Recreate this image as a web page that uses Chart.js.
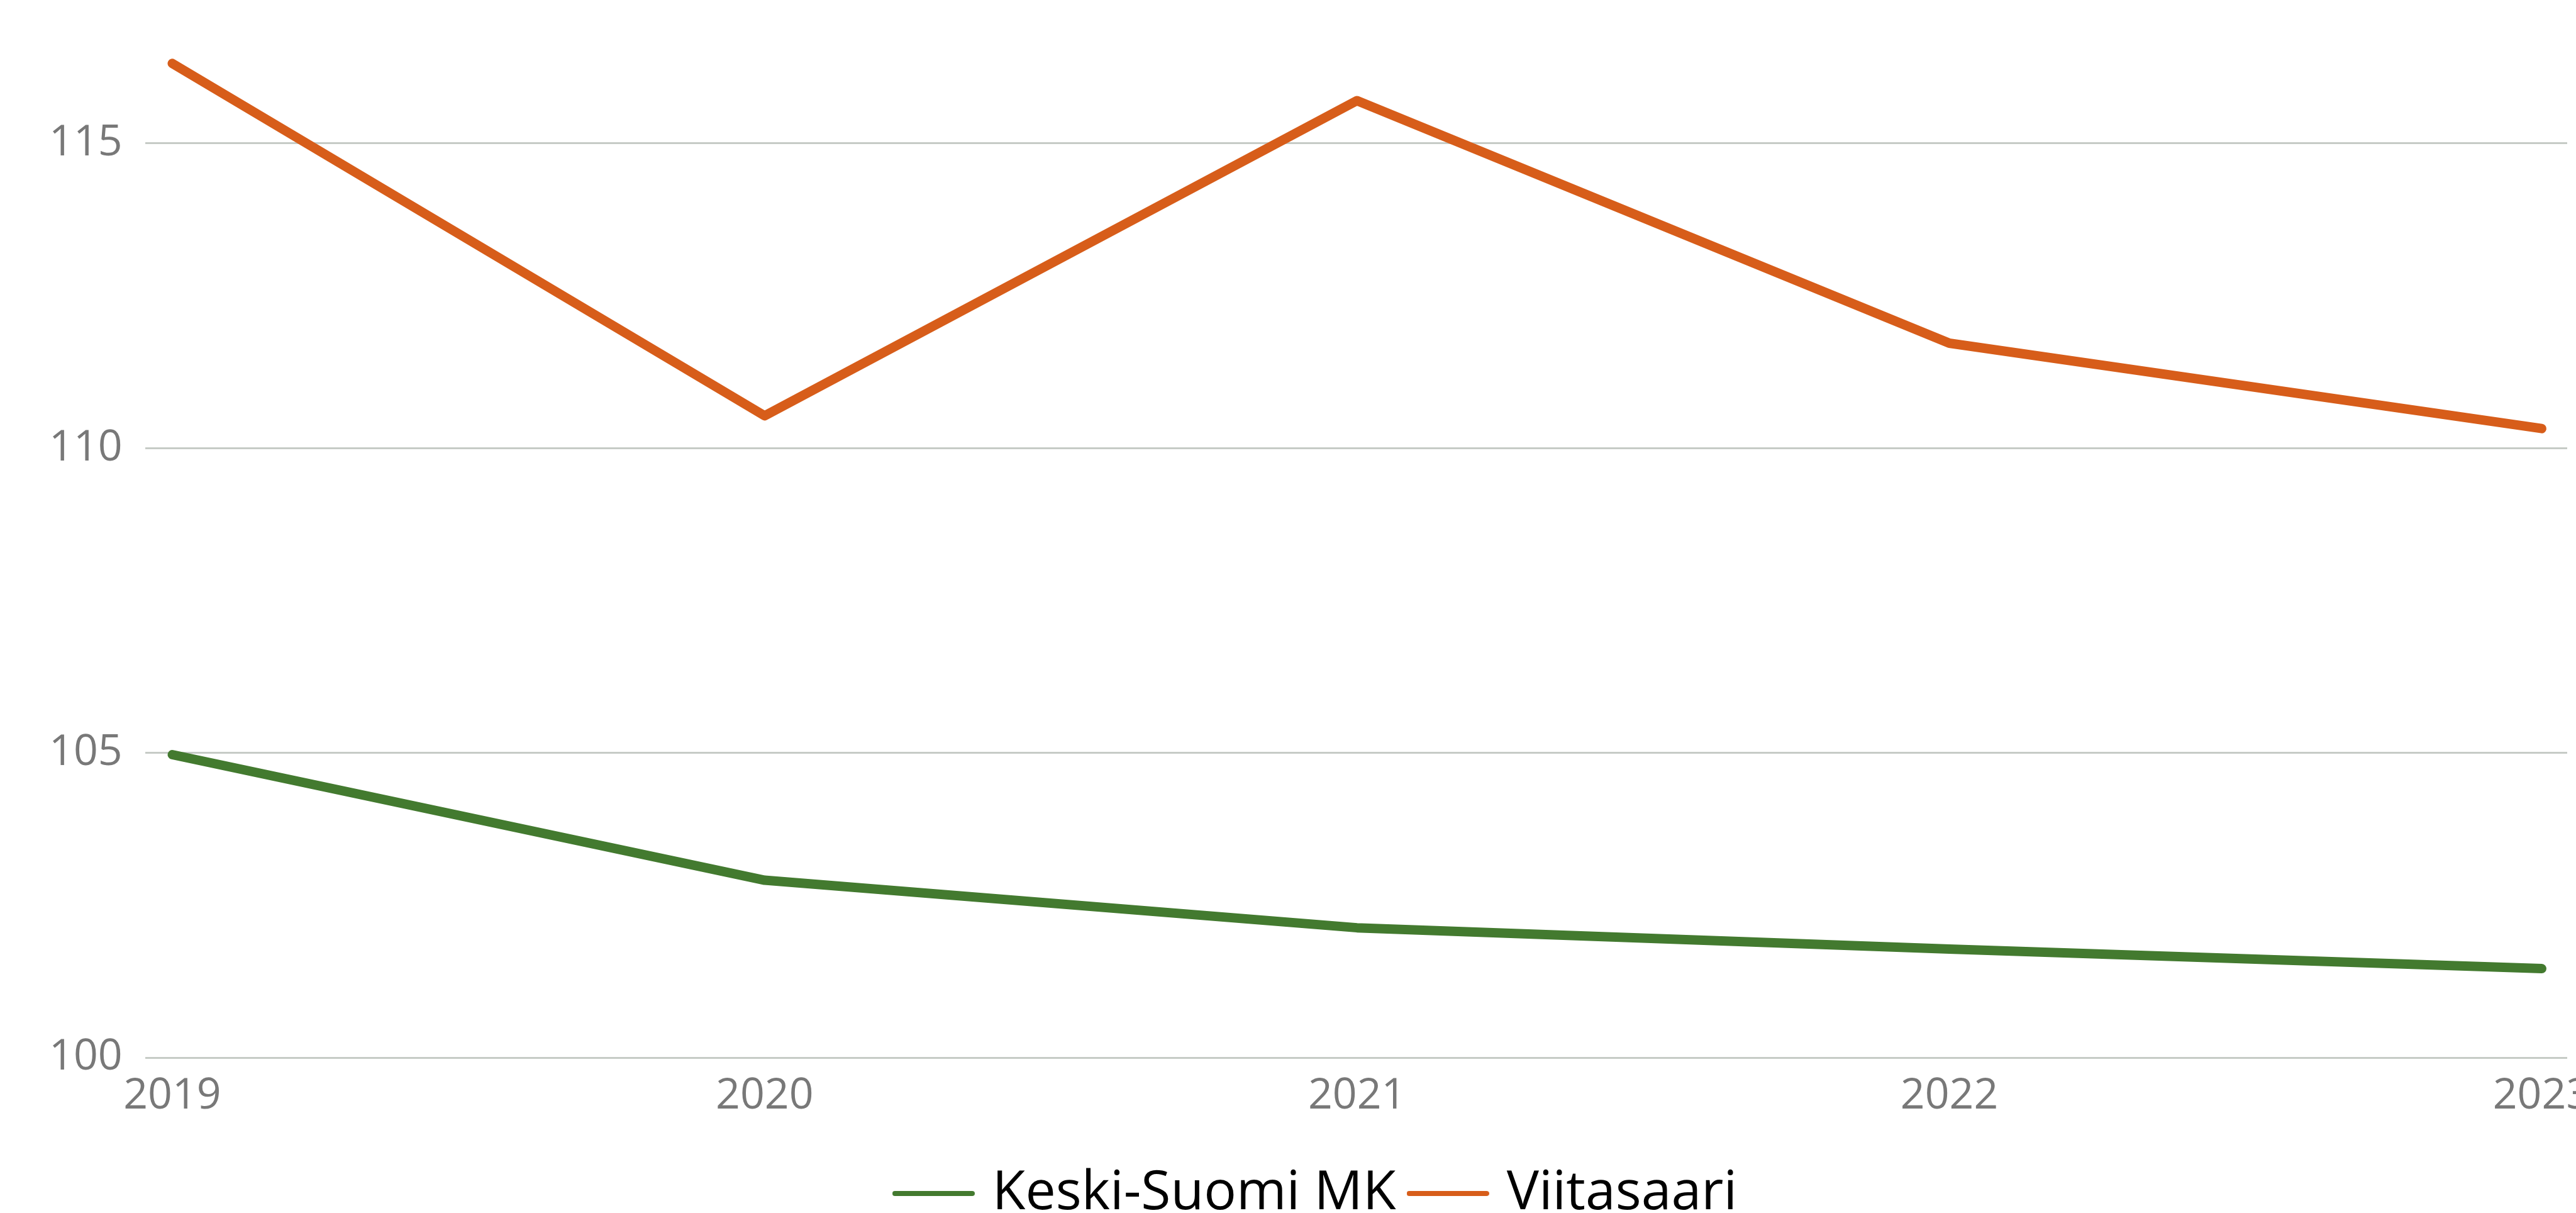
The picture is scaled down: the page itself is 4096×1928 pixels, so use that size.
<!DOCTYPE html>
<html>
<head>
<meta charset="utf-8">
<script src="https://cdn.jsdelivr.net/npm/chart.js@4.4.1/dist/chart.umd.min.js"></script>
<style>
  html, body { margin: 0; padding: 0; background: #ffffff; overflow: hidden; }
  #wrap { width: 4096px; height: 1928px; position: relative; }
</style>
</head>
<body>
<div id="wrap"><canvas id="c"></canvas></div>
<script>
// ---- data ----
const categories = ['2019', '2020', '2021', '2022', '2023'];
const seriesNames = ['Keski-Suomi MK', 'Viitasaari'];
const keskiSuomiValues = [104.97, 102.91, 102.13, 101.78, 101.46];
const viitasaariValues = [116.31, 110.53, 115.70, 111.72, 110.32];
const yTickValues = [100, 105, 110, 115];
const seriesColors = ['#437A2F', '#D75D1A'];

const toPoints = vals => vals.map((v, i) => ({ x: Number(categories[i]), y: v }));

const FONT = '"Open Sans", "Noto Sans", sans-serif';

// legend swatch: a short round-capped line in the series colour
function swatch(color) {
  const c = document.createElement('canvas');
  c.width = 131; c.height = 8;
  const g = c.getContext('2d');
  g.strokeStyle = color; g.lineWidth = 8; g.lineCap = 'round';
  g.beginPath(); g.moveTo(4, 4); g.lineTo(127, 4); g.stroke();
  return c;
}

// nudge the centred legend slightly to the right, as in the reference
const legendNudge = {
  id: 'legendNudge',
  afterLayout(chart) {
    const l = chart.legend;
    if (l) { l.left += 36; l.right += 36; }
  }
};

new Chart(document.getElementById('c'), {
  type: 'line',
  data: {
    datasets: [
      {
        label: seriesNames[0],
        data: toPoints(keskiSuomiValues),
        borderColor: seriesColors[0],
        backgroundColor: seriesColors[0],
        borderWidth: 15,
        borderCapStyle: 'round',
        borderJoinStyle: 'round',
        pointRadius: 0,
        tension: 0
      },
      {
        label: seriesNames[1],
        data: toPoints(viitasaariValues),
        borderColor: seriesColors[1],
        backgroundColor: seriesColors[1],
        borderWidth: 15,
        borderCapStyle: 'round',
        borderJoinStyle: 'round',
        pointRadius: 0,
        tension: 0
      }
    ]
  },
  plugins: [legendNudge],
  options: {
    responsive: true,
    maintainAspectRatio: false,
    animation: false,
    devicePixelRatio: 1,
    layout: { padding: { top: 34, right: 14, left: 42, bottom: -22 } },
    scales: {
      x: {
        type: 'linear',
        min: 2018.954,
        max: 2023.043,
        grid: { display: false, drawTicks: false },
        border: { display: false },
        afterBuildTicks: s => { s.ticks = categories.map(c => ({ value: Number(c) })); },
        ticks: {
          autoSkip: false,
          maxRotation: 0,
          padding: 21,
          color: '#787878',
          font: { family: FONT, size: 68 },
          callback: v => categories.find(c => Number(c) === v) || ''
        },
        afterFit: s => { s.paddingLeft = 0; s.paddingRight = 0; s.height = 141; }
      },
      y: {
        min: 100,
        max: 117,
        grid: { color: '#C6CBC6', lineWidth: 3, drawTicks: false },
        border: { display: false },
        afterBuildTicks: s => { s.ticks = yTickValues.map(v => ({ value: v })); },
        ticks: {
          padding: 36,
          color: '#787878',
          font: { family: FONT, size: 68 },
          callback: v => String(v)
        },
        afterFit: s => { s.paddingTop = 0; s.paddingBottom = 0; }
      }
    },
    plugins: {
      tooltip: { enabled: false },
      legend: {
        position: 'bottom',
        labels: {
          usePointStyle: true,
          pointStyleWidth: 101,
          padding: 32,
          color: '#000000',
          font: { family: FONT, size: 86 },
          generateLabels: chart => chart.data.datasets.map((d, i) => ({
            text: d.label,
            strokeStyle: d.borderColor,
            fillStyle: d.borderColor,
            fontColor: '#000000',
            lineWidth: 0,
            pointStyle: swatch(d.borderColor),
            hidden: false,
            datasetIndex: i
          }))
        }
      }
    }
  }
});
</script>
</body>
</html>
